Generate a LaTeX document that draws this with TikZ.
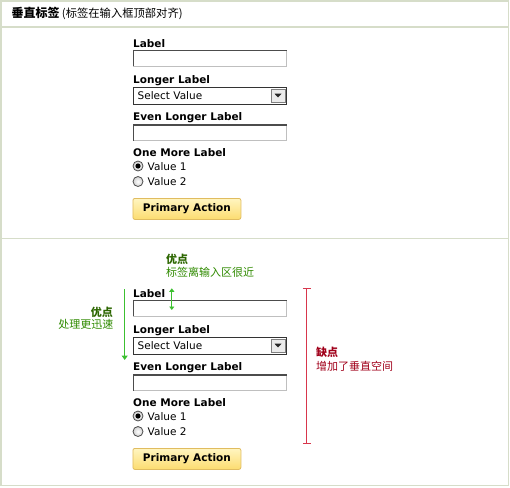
\documentclass[tikz,border=0pt]{standalone}
\usepackage{fontspec}
\setmainfont{DejaVu Sans}
\newfontfamily\cjk{Noto Sans CJK SC}
\usetikzlibrary{arrows.meta}
\definecolor{frame}{HTML}{D6DDC9}
\definecolor{gtext}{HTML}{2F8A00}
\definecolor{gdark}{HTML}{2C6600}
\definecolor{garrow}{HTML}{3CC030}
\definecolor{rtext}{HTML}{A0001A}
\definecolor{rline}{HTML}{D8364C}
\definecolor{btnborder}{HTML}{E0BC60}
\definecolor{btntop}{HTML}{FFF5C0}
\definecolor{btnbot}{HTML}{FCDC70}
\tikzset{
  lbl/.style={inner sep=0pt, anchor=base west, font=\fontsize{10.5}{12}\selectfont\bfseries},
  val/.style={inner sep=0pt, anchor=base west, font=\fontsize{10.5}{12}\selectfont},
  cjktxt/.style={inner sep=0pt, font=\fontsize{11}{13}\cjk},
  fieldbox/.style={draw=black!25, fill=white, line width=0.8pt, minimum width=153pt, minimum height=16pt, inner sep=0pt, anchor=north west},
  radiobox/.style={circle, draw=black!70, line width=0.8pt, inner color=white, outer color=black!18, minimum size=10pt, inner sep=0pt},
  btnbox/.style={draw=btnborder, rounded corners=2pt, top color=btntop, bottom color=btnbot, line width=0.8pt, minimum width=108pt, minimum height=21pt, inner sep=0pt, anchor=north west, font=\fontsize{10.5}{12}\selectfont\bfseries},
}
\newcommand\formblock{%
  \node[lbl] (lab1) at (133,47) {Label};
  \node[fieldbox] (fld1) at (133,49.5) {};
  \draw[black!70, line width=1.6pt] ([yshift=-0.8pt]fld1.north west) -- ([yshift=-0.8pt]fld1.north east);
  \draw[black!70, line width=0.8pt] (fld1.north west) -- (fld1.south west);
  \node[lbl] (lab2) at (133,83.5) {Longer Label};
  \node[fieldbox, draw=black!80, minimum height=17pt] (sel) at (133,87) {};
  \node[val, font=\fontsize{10.5}{12}\selectfont] (selv) at (137.5,99) {Select Value};
  \node[draw=black!50, fill=black!8, minimum width=14pt, minimum height=13pt, inner sep=0pt] (selb) at (278,95.5) {};
  \fill[black!85] ([xshift=-3.5pt,yshift=1.8pt]selb.center) -- ([xshift=3.5pt,yshift=1.8pt]selb.center) -- ([yshift=-2pt]selb.center) -- cycle;
  \node[lbl] (lab3) at (133,120) {Even Longer Label};
  \node[fieldbox] (fld3) at (133,124) {};
  \draw[black!70, line width=1.6pt] ([yshift=-0.8pt]fld3.north west) -- ([yshift=-0.8pt]fld3.north east);
  \draw[black!70, line width=0.8pt] (fld3.north west) -- (fld3.south west);
  \node[lbl] (lab4) at (133,156) {One More Label};
  \node[radiobox] (r1) at (138,166) {};
  \fill[black] (r1.center) circle (2.6pt);
  \node[val] (v1) at (147.5,170) {Value 1};
  \node[radiobox] (r2) at (138,181.5) {};
  \node[val] (v2) at (147.5,185.8) {Value 2};
  \node[btnbox] (btn) at (132.5,198) {Primary Action};
}
\begin{document}
\begin{tikzpicture}[x=1pt,y=-1pt]
\useasboundingbox (0,0) rectangle (510,487);
% frame
\draw[frame, line width=1.6pt] (1,0.8) rectangle (508.6,485.6);
\draw[frame, line width=2pt] (1,26.6) -- (508.6,26.6);
\draw[frame, line width=1.6pt] (1,238.5) -- (508.6,238.5);
% header
\node[inner sep=0pt, anchor=base west, font=\fontsize{12}{14}\cjk\bfseries] (title) at (11.5,18) {垂直标签};
\node[inner sep=0pt, anchor=base west, font=\fontsize{11.3}{13}\cjk] (subtitle) at (title.base east) {\,(标签在输入框顶部对齐)};
% section 1
\begin{scope}[name prefix=A-]
\formblock
\end{scope}
% section 2
\begin{scope}[shift={(0,250)}, name prefix=B-]
\formblock
\end{scope}
% annotations
\node[cjktxt, anchor=base west, font=\fontsize{11}{13}\cjk\bfseries, text=gdark] (p1) at (166,263) {优点};
\node[cjktxt, anchor=base west, text=gtext] (p1t) at (166,276) {标签离输入区很近};
\coordinate (da) at (171.8,288.3);
\coordinate (db) at (171.8,310);
\draw[garrow, line width=1pt, {Triangle[width=5pt,length=3.5pt]}-{Triangle[width=5pt,length=3.5pt]}] (da) -- (db);
\coordinate (la) at (124.7,289);
\coordinate (lb) at (124.7,360);
\draw[garrow, line width=1.4pt, -{Triangle[width=6pt,length=4.5pt]}] (la) -- (lb);
\node[cjktxt, anchor=base east, font=\fontsize{11}{13}\cjk\bfseries, text=gdark] (p2) at (113,316.5) {优点};
\node[cjktxt, anchor=base east, text=gtext] (p2t) at (113.5,328) {处理更迅速};
\coordinate (ra) at (306.8,288.3);
\coordinate (rb) at (306.8,444.3);
\draw[rline, line width=1pt, {Bar[width=8pt]}-{Bar[width=8pt]}] (ra) -- (rb);
\node[cjktxt, anchor=base west, font=\fontsize{11}{13}\cjk\bfseries, text=rtext] (c1) at (316,356) {缺点};
\node[cjktxt, anchor=base west, text=rtext] (c1t) at (316,370.5) {增加了垂直空间};
\end{tikzpicture}
\end{document}
